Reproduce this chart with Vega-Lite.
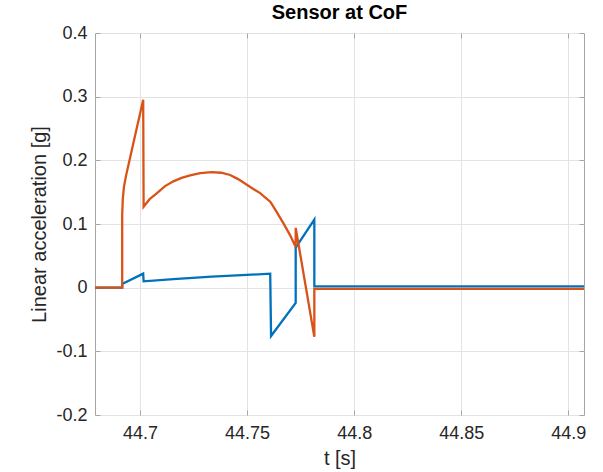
{
  "$schema": "https://vega.github.io/schema/vega-lite/v6.json",
  "width": 489,
  "height": 382,
  "autosize": "none",
  "padding": {"left": 95, "top": 33, "right": 19, "bottom": 57},
  "background": "white",
  "config": {
    "font": "Liberation Sans",
    "view": {"stroke": "#a6a6a6", "strokeWidth": 1}
  },
  "title": {"text": "Sensor at CoF", "fontSize": 20, "fontWeight": "bold", "color": "#000000", "offset": 1, "anchor": "middle"},
  "datasets": {
    "blue": [
      {"t": 44.679, "v": 0},
      {"t": 44.6917, "v": 0},
      {"t": 44.6917, "v": 0.006},
      {"t": 44.7015, "v": 0.022},
      {"t": 44.7017, "v": 0.010},
      {"t": 44.7156, "v": 0.0135},
      {"t": 44.7335, "v": 0.0175},
      {"t": 44.7499, "v": 0.0200},
      {"t": 44.7608, "v": 0.022},
      {"t": 44.7612, "v": -0.076},
      {"t": 44.7727, "v": -0.024},
      {"t": 44.7727, "v": 0.063},
      {"t": 44.7814, "v": 0.107},
      {"t": 44.7814, "v": 0.002},
      {"t": 44.9073, "v": 0.002}
    ],
    "orange": [
      {"t": 44.679, "v": 0},
      {"t": 44.6917, "v": 0},
      {"t": 44.6917, "v": 0.1145},
      {"t": 44.692, "v": 0.14},
      {"t": 44.6925, "v": 0.158},
      {"t": 44.6935, "v": 0.176},
      {"t": 44.6969, "v": 0.227},
      {"t": 44.7015, "v": 0.295},
      {"t": 44.7017, "v": 0.127},
      {"t": 44.7045, "v": 0.139},
      {"t": 44.7078, "v": 0.148},
      {"t": 44.7117, "v": 0.1595},
      {"t": 44.7156, "v": 0.167},
      {"t": 44.7194, "v": 0.1725},
      {"t": 44.7234, "v": 0.1765},
      {"t": 44.7281, "v": 0.1800},
      {"t": 44.7335, "v": 0.1815},
      {"t": 44.7379, "v": 0.1805},
      {"t": 44.7421, "v": 0.1770},
      {"t": 44.7458, "v": 0.1705},
      {"t": 44.7499, "v": 0.1616},
      {"t": 44.7529, "v": 0.1550},
      {"t": 44.7561, "v": 0.1485},
      {"t": 44.7584, "v": 0.1420},
      {"t": 44.7608, "v": 0.135},
      {"t": 44.7612, "v": 0.133},
      {"t": 44.764, "v": 0.118},
      {"t": 44.767, "v": 0.101},
      {"t": 44.77, "v": 0.083},
      {"t": 44.7727, "v": 0.064},
      {"t": 44.7727, "v": 0.094},
      {"t": 44.7814, "v": -0.077},
      {"t": 44.7814, "v": -0.002},
      {"t": 44.9073, "v": -0.002}
    ]
  },
  "resolve": {"axis": {"x": "independent", "y": "independent"}},
  "layer": [
    {
      "data": {"name": "blue"},
      "mark": {"type": "line", "color": "#0072BD", "strokeWidth": 2.3, "clip": true},
      "encoding": {
        "x": {
          "field": "t", "type": "quantitative",
          "scale": {"domain": [44.679, 44.9073], "nice": false, "zero": false},
          "axis": {
            "values": [44.7, 44.75, 44.8, 44.85, 44.9],
            "labelExpr": "toString(datum.value)",
            "title": "t [s]",
            "titleFontSize": 20, "titleFontWeight": "normal", "titleColor": "#262626", "titlePadding": 6,
            "labelFontSize": 18, "labelColor": "#262626", "labelPadding": 14,
            "domain": false, "ticks": true, "tickSize": -5, "tickColor": "#a6a6a6",
            "grid": true, "gridColor": "#e3e3e3"
          }
        },
        "y": {
          "field": "v", "type": "quantitative",
          "scale": {"domain": [-0.2, 0.4], "nice": false, "zero": false},
          "axis": {
            "values": [-0.2, -0.1, 0, 0.1, 0.2, 0.3, 0.4],
            "labelExpr": "replace(format(datum.value, '~g'), '\u2212', '-')",
            "title": "Linear acceleration [g]",
            "titleFontSize": 20, "titleFontWeight": "normal", "titleColor": "#262626", "titlePadding": 6,
            "labelFontSize": 18, "labelColor": "#262626", "labelPadding": 13,
            "domain": false, "ticks": true, "tickSize": -5, "tickColor": "#a6a6a6",
            "grid": true, "gridColor": "#e3e3e3"
          }
        },
        "order": {"value": null}
      }
    },
    {
      "data": {"name": "orange"},
      "mark": {"type": "line", "color": "#D95319", "strokeWidth": 2.3, "clip": true},
      "encoding": {
        "x": {
          "field": "t", "type": "quantitative",
          "scale": {"domain": [44.679, 44.9073], "nice": false, "zero": false},
          "axis": {
            "orient": "top", "values": [44.7, 44.75, 44.8, 44.85, 44.9],
            "labels": false, "title": null, "domain": false, "grid": false,
            "ticks": true, "tickSize": -5, "tickColor": "#a6a6a6"
          }
        },
        "y": {
          "field": "v", "type": "quantitative",
          "scale": {"domain": [-0.2, 0.4], "nice": false, "zero": false},
          "axis": {
            "orient": "right", "values": [-0.2, -0.1, 0, 0.1, 0.2, 0.3, 0.4],
            "labels": false, "title": null, "domain": false, "grid": false,
            "ticks": true, "tickSize": -5, "tickColor": "#a6a6a6"
          }
        },
        "order": {"value": null}
      }
    }
  ]
}
